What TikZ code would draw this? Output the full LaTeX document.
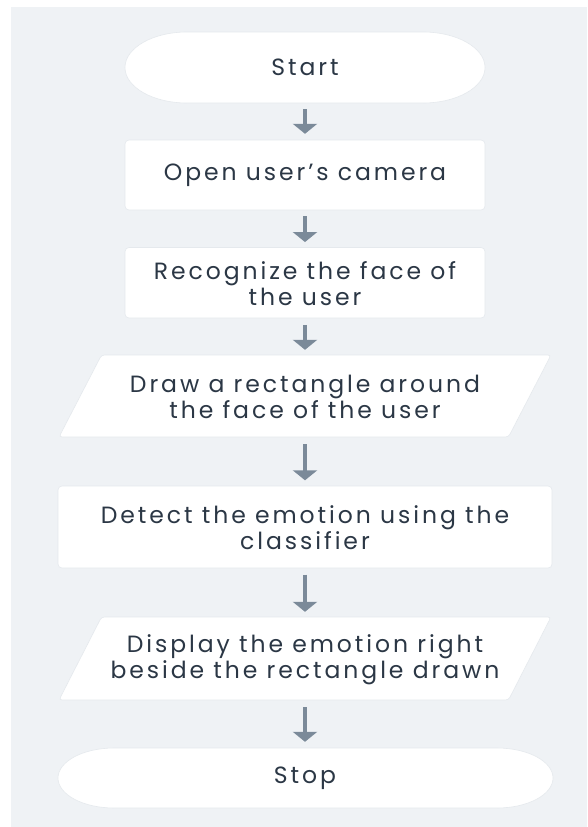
\documentclass[tikz,border=0pt]{standalone}
\usepackage{fontspec}
\setmainfont{Poppins}[LetterSpace=12.5]
\usetikzlibrary{arrows.meta}
\definecolor{panel}{HTML}{EFF2F5}
\definecolor{ink}{HTML}{2B3745}
\definecolor{flow}{HTML}{7B8A99}
\definecolor{rim}{HTML}{E5E9ED}

% stadium (flat top/bottom, elliptical ends): left, top, right, bottom, x-radius
\newcommand\cardstadium[5]{%
  \pgfmathsetmacro\stM{(#2+#4)/2}%
  \pgfmathsetmacro\stRy{(#4-#2)/2}%
  \pgfmathsetmacro\stKx{0.5523*#5}%
  \pgfmathsetmacro\stKy{0.5523*\stRy}%
  \filldraw[card] (#1+#5,#2) -- (#3-#5,#2)
    .. controls (#3-#5+\stKx,#2) and (#3,\stM-\stKy) .. (#3,\stM)
    .. controls (#3,\stM+\stKy) and (#3-#5+\stKx,#4) .. (#3-#5,#4)
    -- (#1+#5,#4)
    .. controls (#1+#5-\stKx,#4) and (#1,\stM+\stKy) .. (#1,\stM)
    .. controls (#1,\stM-\stKy) and (#1+#5-\stKx,#2) .. (#1+#5,#2) -- cycle;}

% slanted card: top-left x, top-right x, bottom-left x, bottom-right x, top y, bottom y
\newcommand\cardslant[6]{%
  \filldraw[card, rounded corners=3pt] (#1,#5) -- (#2,#5) -- (#4,#6) -- (#3,#6) -- cycle;}

\tikzset{
  card/.style={fill=white, draw=rim, line width=0.6pt},
  caption/.style={text=ink, font=\fontsize{23.5}{26}\selectfont, align=center, inner sep=0pt},
  flowarrow/.style={draw=flow, line width=4.5pt,
    -{Triangle[width=24pt 0, length=10pt 0]}, shorten <=6pt, shorten >=6pt}
}

\begin{document}
\begin{tikzpicture}[x=1pt, y=-1pt]
  \useasboundingbox (0,0) rectangle (587,827);
  \fill[white] (0,0) rectangle (587,827);
  \fill[panel] (11,7) rectangle (587,827);

  % card shapes
  \cardstadium{125}{32}{485}{103}{62}
  \filldraw[card, rounded corners=4pt] (125,140) rectangle (485,210);
  \filldraw[card, rounded corners=4pt] (125,247.5) rectangle (485,318);
  \cardslant{101.5}{551}{59}{508.5}{355}{437}
  \filldraw[card, rounded corners=4pt] (58,486) rectangle (552,568);
  \cardslant{101.5}{551}{59}{508.5}{617}{700}
  \cardstadium{58}{748}{553}{808}{56}

  % texts
  \node[caption, minimum width=360pt, minimum height=71pt] (start) at (305,67.5) {Start};
  \node[caption, minimum width=360pt, minimum height=70pt] (camera) at (305,175) {Open user’s camera};
  \node[caption, minimum width=360pt, minimum height=70.5pt] (face) at (305,283.5) {Recognize the face of\\the user};
  \node[caption, minimum width=450pt, minimum height=82pt] (rect) at (305,397) {Draw a rectangle around\\the face of the user};
  \node[caption, minimum width=494pt, minimum height=82pt] (detect) at (305,527.5) {Detect the emotion using the\\classifier};
  \node[caption, minimum width=450pt, minimum height=83pt] (show) at (305,659.5) {Display the emotion right\\beside the rectangle drawn};
  \node[caption, minimum width=495pt, minimum height=60pt] (stop) at (305,778) {Stop};

  % connectors
  \draw[flowarrow] (start) -- (camera);
  \draw[flowarrow] (camera) -- (face);
  \draw[flowarrow] (face) -- (rect);
  \draw[flowarrow] (rect) -- (detect);
  \draw[flowarrow] (detect) -- (show);
  \draw[flowarrow] (show) -- (stop);
\end{tikzpicture}
\end{document}
